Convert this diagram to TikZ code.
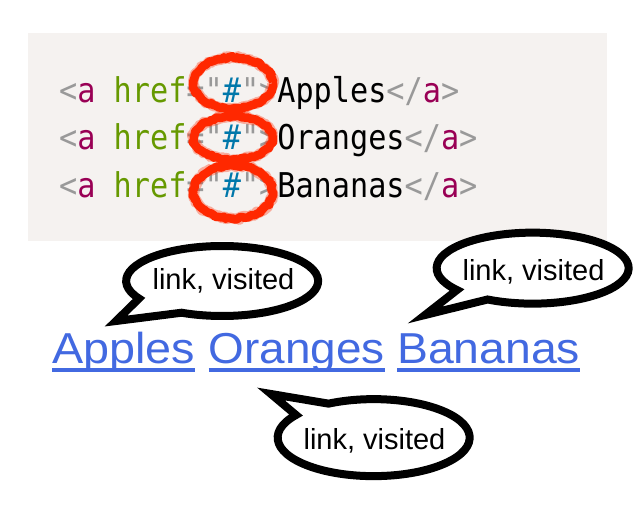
\documentclass[tikz,border=0pt]{standalone}
\usepackage{fontspec}
\usetikzlibrary{decorations.pathmorphing}
\newfontfamily\codefont{DejaVu Sans Mono}
\newfontfamily\bubfont{Liberation Sans}
\definecolor{codebg}{HTML}{F5F2F0}
\definecolor{pg}{HTML}{999999}
\definecolor{tg}{HTML}{990055}
\definecolor{an}{HTML}{669900}
\definecolor{av}{HTML}{0077AA}
\definecolor{redmark}{RGB}{255,40,0}
\definecolor{linkblue}{RGB}{66,105,225}
\newcommand{\codeline}[1]{\scalebox{1}[1.13]{{\color{pg}<}{\color{tg}a} {\color{an}href}{\color{pg}=}{\color{pg}"}{\color{av}\#}{\color{pg}"}{\color{pg}>}#1{\color{pg}</}{\color{tg}a}{\color{pg}>}}}
\tikzset{
  codetext/.style={anchor=base west, inner sep=0pt, font=\codefont\fontsize{30.2}{30}\selectfont},
  redloop/.style={draw=redmark, line width=8.5pt, line join=round, decorate, decoration={random steps, segment length=2.5pt, amplitude=1.2pt}},
  redhalo/.style={draw=redmark, opacity=0.35, line width=10.5pt, line join=round, decorate, decoration={random steps, segment length=2pt, amplitude=1.5pt}},
  bubble/.style={draw=black, fill=white, line width=8pt, line join=miter, miter limit=12},
  bubtext/.style={anchor=base, inner sep=0pt, font=\bubfont\fontsize{29}{29}\selectfont},
  linktext/.style={anchor=base west, inner sep=0pt, text=linkblue, font=\bubfont\fontsize{43.3}{44}\selectfont},
  uline/.style={draw=linkblue, line width=4pt}
}
\begin{document}
\begin{tikzpicture}[x=1pt,y=-1pt]
\useasboundingbox (0,0) rectangle (634,514);
% code block
\fill[codebg] (28,33) rectangle (607,241);
\node[codetext] (l1) at (59,102) {\codeline{Apples}};
\node[codetext] (l2) at (59,149.5) {\codeline{Oranges}};
\node[codetext] (l3) at (59,197) {\codeline{Bananas}};
% red hand-drawn loops
\draw[redhalo] (233,83) ellipse [x radius=39.5, y radius=25.5];
\draw[redhalo] (233,138) ellipse [x radius=39.5, y radius=21.5];
\draw[redhalo] (233,192) ellipse [x radius=39.5, y radius=26.5];
\draw[redloop] (233,83) ellipse [x radius=39.5, y radius=25.5];
\draw[redloop] (233,138) ellipse [x radius=39.5, y radius=21.5];
\draw[redloop] (233,192) ellipse [x radius=39.5, y radius=26.5];
% bubble 1
\coordinate (tip1) at (116,321);
\draw[bubble] (tip1) -- (139,298.5) arc[start angle=150, end angle=475, x radius=96, y radius=35] -- cycle;
\node[bubtext] (t1) at (223.5,289) {link, visited};
% bubble 2
\coordinate (tip2) at (425,315);
\draw[bubble] (tip2) -- (457,290) arc[start angle=142, end angle=478, x radius=96, y radius=35.5] -- cycle;
\node[bubtext] (t2) at (533.5,280) {link, visited};
% bubble 3
\coordinate (tip3) at (271,394);
\draw[bubble] (tip3) -- (296,415) arc[start angle=216, end angle=-118, x radius=96, y radius=38.5] -- cycle;
\node[bubtext] (t3) at (374.5,449) {link, visited};
% links
\node[linktext] (apples) at (52,363) {\scalebox{1.08}[1]{Apples}};
\node[linktext] (oranges) at (208.5,363) {\scalebox{1.06}[1]{Oranges}};
\node[linktext] (bananas) at (397,363) {\scalebox{1.07}[1]{Bananas}};
\draw[uline] ([yshift=-7pt]apples.base west) -- ([yshift=-7pt]apples.base east);
\draw[uline] ([yshift=-7pt]oranges.base west) -- ([yshift=-7pt]oranges.base east);
\draw[uline] ([yshift=-7pt]bananas.base west) -- ([yshift=-7pt]bananas.base east);
\end{tikzpicture}
\end{document}
